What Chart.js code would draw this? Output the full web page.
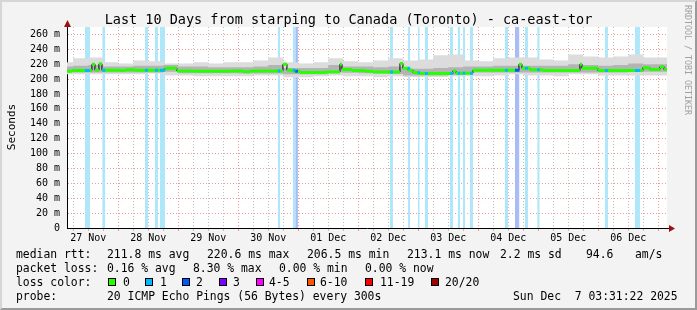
<!DOCTYPE html>
<html>
<head>
<meta charset="utf-8">
<script src="https://cdn.jsdelivr.net/npm/chart.js@4/dist/chart.umd.min.js"></script>
<style>
  html, body { margin: 0; padding: 0; }
  body { width: 697px; height: 310px; position: relative; overflow: hidden; background: #f3f3f3; font-family: 'DejaVu Sans Mono', monospace; }
  #chart { position: absolute; left: 0; top: 0; }
  .frame { position: absolute; left: 0; top: 0; width: 697px; height: 310px; box-sizing: border-box; border: 2px solid; border-color: #d6d6d6 #9a9a9a #9a9a9a #d6d6d6; pointer-events: none; }
  .t { position: absolute; white-space: pre; color: #000; font-size: 11.4px; line-height: 14px; }
  .title { position: absolute; left: 0; top: 11px; width: 697px; text-align: center; font-size: 13.5px; line-height: 16px; white-space: pre; }
  .rot { position: absolute; white-space: pre; transform: translate(-50%, -50%) rotate(-90deg); }
  .sw { position: absolute; top: 278px; width: 6px; height: 6px; border: 1px solid #000; }
</style>
</head>
<body>
<canvas id="chart" width="697" height="310"></canvas>
<div class="frame"></div>
<div class="title">Last 10 Days from starping to Canada (Toronto) - ca-east-tor</div>
<div class="rot" style="left:11px; top:127px; font-size:11px;">Seconds</div>
<div class="rot" style="left:688px; top:60px; font-size:8.3px; color:#a0a0a0; transform: translate(-50%, -50%) rotate(90deg);">RRDTOOL / TOBI OETIKER</div>

<div class="t" style="left:16px; top:247px;">median rtt:</div>
<div class="t" style="left:107px; top:247px;">211.8 ms avg</div>
<div class="t" style="left:207px; top:247px;">220.6 ms max</div>
<div class="t" style="left:307px; top:247px;">206.5 ms min</div>
<div class="t" style="left:407px; top:247px;">213.1 ms now</div>
<div class="t" style="left:500px; top:247px;">2.2 ms sd</div>
<div class="t" style="left:586px; top:247px;">94.6</div>
<div class="t" style="left:635px; top:247px;">am/s</div>

<div class="t" style="left:16px; top:261px;">packet loss:</div>
<div class="t" style="left:107px; top:261px;">0.16 % avg</div>
<div class="t" style="left:193px; top:261px;">8.30 % max</div>
<div class="t" style="left:279px; top:261px;">0.00 % min</div>
<div class="t" style="left:365px; top:261px;">0.00 % now</div>

<div class="t" style="left:16px; top:275px;">loss color:</div>
<div class="sw" style="left:108px; background:#26ff00;"></div><div class="t" style="left:123px; top:275px;">0</div>
<div class="sw" style="left:145px; background:#00b8ff;"></div><div class="t" style="left:160px; top:275px;">1</div>
<div class="sw" style="left:182px; background:#0059ff;"></div><div class="t" style="left:196px; top:275px;">2</div>
<div class="sw" style="left:219px; background:#7e00ff;"></div><div class="t" style="left:233px; top:275px;">3</div>
<div class="sw" style="left:256px; background:#ff00ff;"></div><div class="t" style="left:269px; top:275px;">4-5</div>
<div class="sw" style="left:307px; background:#ff5500;"></div><div class="t" style="left:320px; top:275px;">6-10</div>
<div class="sw" style="left:365px; background:#ff0000;"></div><div class="t" style="left:380px; top:275px;">11-19</div>
<div class="sw" style="left:431px; background:#a10000;"></div><div class="t" style="left:445px; top:275px;">20/20</div>

<div class="t" style="left:16px; top:289px;">probe:</div>
<div class="t" style="left:107px; top:289px;">20 ICMP Echo Pings (56 Bytes) every 300s</div>
<div class="t" style="left:513px; top:289px;">Sun Dec  7 03:31:22 2025</div>

<script>
// ===== SmokePing: Last 10 Days starping -> ca-east-tor =====
// x values are hours since 27 Nov 00:00

const xStart = 3.52
const xEnd = 243.52
const yMax = 270

const dayLabels = ['27 Nov', '28 Nov', '29 Nov', '30 Nov', '01 Dec', '02 Dec', '03 Dec', '04 Dec', '05 Dec', '06 Dec']

// median rtt (ms), step values starting at each hour
const medianHours = [3.52, 5.5, 8.7, 13.5, 14.7, 16.3, 17.5, 24.7, 26.7, 30.7, 36.7, 42.7, 47.5, 54.7, 68.7, 73.9,
  76.7, 89.9, 91.5, 93.9, 96.7, 106.7, 112.7, 113.5, 117.5, 122.7, 125.9, 136.7, 137.9, 139.9, 141.9, 143.9,
  157.9, 159.1, 165.9, 183.5, 184.3, 185.5, 188.7, 193.9, 208.7, 209.5, 215.9, 233.9, 236.7, 240.7, 242.3, 243.52]
const medianMs = [210.5, 211.7, 211.5, 220, 212, 220.5, 212, 211.5, 212.5, 211.8, 212, 214.5, 211, 210.5, 210.8, 210,
  211, 220, 212, 210.5, 209, 209.5, 220, 213, 211.5, 210.5, 209.5, 221, 214.5, 212, 209, 207.4,
  211, 208, 211.8, 212, 220, 214.5, 212.7, 211.4, 220, 214.5, 211.4, 215.4, 213, 216.7, 213, 213.1]

// smoke (spread of the 20 pings), 6-hour blocks
const smokeHours = [0, 6, 12, 18, 24, 30, 36, 42, 48, 54, 60, 66, 72, 78, 84, 90, 96, 102, 108, 114, 120,
  126, 132, 138, 144, 150, 156, 162, 168, 174, 180, 186, 192, 198, 204, 210, 216, 222, 228, 234, 240, 246]
const smokeOuterTop = [222.5, 228, 229, 222.5, 221, 225, 224, 221, 221, 222.5, 221, 222.5, 222.5, 225, 229, 222.5, 221, 222.5, 228, 224, 222.5,
  225, 228, 225, 226.5, 232, 233, 225, 224, 228, 229, 229, 226.5, 225, 233, 230.5, 229, 230.5, 233, 229, 229, 229]
const smokeOuterBottom = [206.4, 206.4, 206.4, 206.4, 206.4, 206.4, 207.7, 205, 205, 203.8, 203.8, 203.8, 203.8, 205, 205, 202.4, 202.4, 203.8, 205, 203.8, 203.8,
  202.4, 203.8, 203, 203, 203, 203.5, 203.8, 203.8, 205, 206.4, 205, 205, 203.8, 206.4, 206.4, 205, 205, 205, 205, 205, 205]
const smokeInnerTop = [217, 218, 219, 217, 217, 218, 218, 219, 217, 217, 216, 216, 216, 217, 219, 215, 215, 215, 219, 217, 217,
  216, 217, 214, 214, 215, 216, 217, 217, 218, 218, 218, 218, 218, 220, 219, 218, 219, 221, 220, 220, 220]
const smokeInnerBottom = [209, 209, 209, 209, 209, 209, 209, 210, 208, 208, 208, 208, 207.5, 207.5, 207.5, 206.5, 206.5, 206.5, 209, 208.5, 208,
  207.5, 207, 205, 205, 205, 205.5, 209, 209, 209, 209, 209, 209, 209, 209, 209, 209, 209, 210, 210, 210, 210]

// packet loss periods (hours), 1/20 and 2/20 lost
const loss1Start = [10.7, 17.6, 34.7, 38.7, 40.7, 87.8, 93.8, 132.7, 139.8, 143.8, 146.7, 156.7, 159.8, 161.8, 164.7, 178.7, 186.7, 191.6, 218.7, 230.7]
const loss1End = [12.7, 18.8, 35.9, 39.9, 42.7, 88.8, 94.8, 133.9, 140.8, 144.6, 147.9, 157.9, 160.8, 162.8, 165.9, 179.9, 187.9, 192.6, 219.9, 232.7]
const loss2Start = [94.8, 182.7]
const loss2End = [95.9, 184.5]

const lossColors = { 0: '#26ff00', 1: '#00b8ff', 2: '#0059ff' }

function pts(xs, ys) {
  return xs.map((x, i) => ({ x: x, y: ys[i] }))
}

function lossColumns(starts, ends) {
  const out = []
  starts.forEach((s, i) => {
    out.push({ x: s, y: yMax }, { x: ends[i], y: yMax }, { x: ends[i], y: null })
  })
  return out
}

function medianAt(h) {
  let v = medianMs[0]
  medianHours.forEach((mh, i) => { if (mh <= h) v = medianMs[i] })
  return v
}

// horizontal pieces of the median, without the vertical risers
function medianPieces() {
  const out = []
  for (let i = 0; i < medianHours.length - 1; i++) {
    out.push({ x: medianHours[i], y: medianMs[i] }, { x: medianHours[i + 1], y: medianMs[i] }, { x: medianHours[i + 1], y: null })
  }
  return out
}

function lossMedian(starts, ends) {
  const out = []
  starts.forEach((s, i) => {
    const v = medianAt(s)
    out.push({ x: s, y: v }, { x: ends[i], y: v }, { x: ends[i], y: null })
  })
  return out
}

const plotFrame = {
  id: 'plotFrame',
  beforeDraw(chart) {
    const { ctx, chartArea: a } = chart
    ctx.save()
    ctx.fillStyle = '#ffffff'
    ctx.fillRect(a.left, a.top, a.right - a.left, a.bottom - a.top)
    ctx.restore()
  },
  afterDraw(chart) {
    const { ctx, chartArea: a } = chart
    ctx.save()
    ctx.strokeStyle = '#000'
    ctx.lineWidth = 1
    ctx.beginPath()
    ctx.moveTo(a.right, Math.round(a.bottom) + 0.5)
    ctx.lineTo(a.right + 3, Math.round(a.bottom) + 0.5)
    ctx.stroke()
    ctx.fillStyle = '#9b1010'
    // arrow on the value axis
    const lx = Math.round(a.left) + 0.5
    ctx.beginPath()
    ctx.moveTo(lx - 3.5, a.top)
    ctx.lineTo(lx + 3.5, a.top)
    ctx.lineTo(lx, a.top - 7)
    ctx.closePath()
    ctx.fill()
    // arrow on the time axis
    const by = Math.round(a.bottom) + 0.5
    ctx.beginPath()
    ctx.moveTo(a.right + 2, by - 3.5)
    ctx.lineTo(a.right + 2, by + 3.5)
    ctx.lineTo(a.right + 8, by)
    ctx.closePath()
    ctx.fill()
    ctx.restore()
  }
}

const majorGrid = 'rgba(235, 120, 120, 0.75)'
const minorGrid = 'rgba(170, 170, 170, 0.75)'

const ctx = document.getElementById('chart').getContext('2d')
window.smokeChart = new Chart(ctx, {
  type: 'line',
  data: {
    datasets: [
      { data: lossColumns(loss1Start, loss1End), backgroundColor: '#aee6fa', fill: 'origin', borderWidth: 0, order: 9 },
      { data: lossColumns(loss2Start, loss2End), backgroundColor: '#a8bcf6', fill: 'origin', borderWidth: 0, order: 9 },
      { data: pts(smokeHours, smokeOuterTop), stepped: true, borderWidth: 0, backgroundColor: '#dcdcdc', fill: '+1', order: 8 },
      { data: pts(smokeHours, smokeOuterBottom), stepped: true, borderWidth: 0, fill: false, order: 8 },
      { data: pts(smokeHours, smokeInnerTop), stepped: true, borderWidth: 0, backgroundColor: '#b4b4b4', fill: '+1', order: 7 },
      { data: pts(smokeHours, smokeInnerBottom), stepped: true, borderWidth: 0, fill: false, order: 7 },
      { data: pts(medianHours, medianMs), stepped: true, borderColor: '#000', borderWidth: 1, fill: false, order: 3 },
      { data: medianPieces(), borderColor: lossColors[0], borderWidth: 3, fill: false, order: 2 },
      { data: lossMedian(loss1Start, loss1End), borderColor: lossColors[1], borderWidth: 3, fill: false, order: 1 },
      { data: lossMedian(loss2Start, loss2End), borderColor: lossColors[2], borderWidth: 3, fill: false, order: 1 }
    ]
  },
  options: {
    responsive: false,
    animation: false,
    events: [],
    spanGaps: false,
    layout: { padding: { left: 0, right: 30, top: 27, bottom: 0 } },
    elements: { point: { radius: 0 }, line: { tension: 0, borderCapStyle: 'butt' } },
    plugins: { legend: { display: false }, tooltip: { enabled: false } },
    scales: {
      x: {
        type: 'linear',
        min: xStart,
        max: xEnd,
        afterBuildTicks: scale => {
          const t = []
          for (let h = 6; h <= 240; h += 6) t.push({ value: h })
          scale.ticks = t
        },
        afterFit: scale => { scale.height = 82 },
        ticks: {
          autoSkip: false,
          maxRotation: 0,
          padding: 1,
          color: '#000',
          font: { family: 'DejaVu Sans Mono', size: 10 },
          callback: v => (v % 24 === 12 ? dayLabels[(v - 12) / 24] : '')
        },
        grid: {
          color: c => (c.tick && c.tick.value % 24 === 0 ? majorGrid : minorGrid),
          tickColor: c => (c.tick && c.tick.value % 24 === 0 ? majorGrid : minorGrid),
          tickLength: 3
        },
        border: { color: '#000', width: 1, dash: [1, 2] }
      },
      y: {
        min: 0,
        max: yMax,
        afterFit: scale => { scale.width = 67 },
        ticks: {
          stepSize: 10,
          padding: 7,
          color: '#000',
          font: { family: 'DejaVu Sans Mono', size: 10 },
          callback: v => (v % 20 !== 0 ? '' : (v === 0 ? '0' : v + ' m'))
        },
        grid: {
          color: c => (c.tick && c.tick.value % 20 === 0 ? majorGrid : minorGrid),
          drawTicks: false
        },
        border: { color: '#000', width: 1, dash: [1, 2] }
      }
    }
  },
  plugins: [plotFrame]
})
</script>
</body>
</html>
